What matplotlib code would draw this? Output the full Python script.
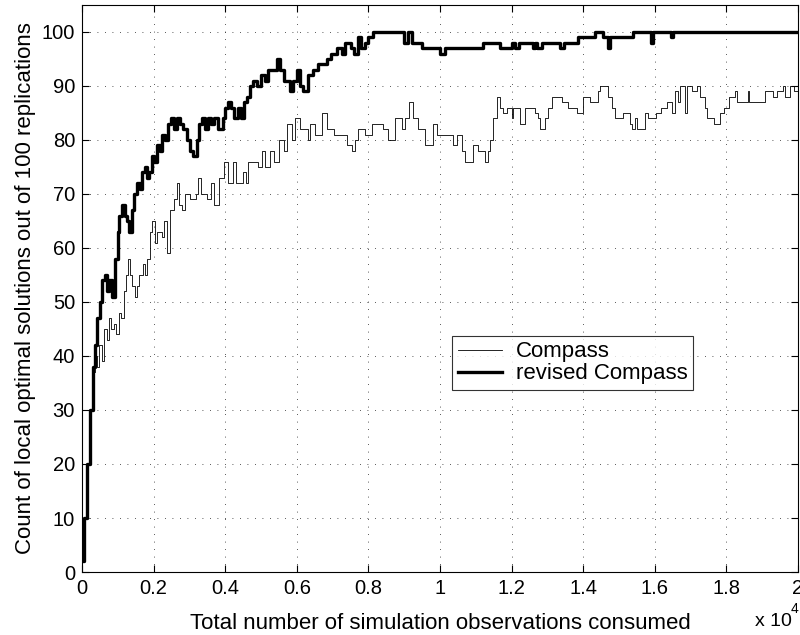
import matplotlib
matplotlib.use('Agg')
import matplotlib.pyplot as plt
from matplotlib.ticker import FuncFormatter

plt.rcParams['font.family'] = ['Liberation Sans', 'DejaVu Sans']

# revised Compass: (observations, count) breakpoints of the step curve
rev_x = [0, 60, 140, 220, 300, 360, 430, 500, 560, 640, 700, 760, 840, 920, 1000,
         1040, 1120, 1200, 1260, 1320, 1400, 1460, 1540, 1620, 1680, 1760, 1820,
         1880, 1960, 2020, 2100, 2180, 2240, 2320, 2400, 2480, 2560, 2640, 2740,
         2820, 2940, 3020, 3100, 3200, 3280, 3360, 3440, 3520, 3600, 3700, 3800,
         3940, 4000, 4080, 4160, 4240, 4360, 4440, 4520, 4610, 4700, 4780, 4880,
         5000, 5100, 5200, 5300, 5450, 5540, 5640, 5810, 5900, 6010, 6100, 6180,
         6300, 6460, 6600, 6700, 6850, 6950, 7130, 7250, 7350, 7500, 7600, 7700,
         7800, 7900, 8000, 8130, 9000, 9100, 9220, 9500, 10000, 10150, 11200,
         11680, 12020, 12100, 12200, 12600, 12650, 12700, 12860, 13360, 13450,
         13860, 14340, 14560, 14700, 14760, 15400, 15880, 15960, 16440, 16520, 20000]
rev_y = [2, 10, 20, 30, 38, 42, 47, 50, 54, 55, 52, 54, 51, 58, 63,
         66, 68, 66, 65, 63, 67, 70, 72, 71, 74, 75, 73,
         74, 77, 76, 79, 78, 81, 80, 83, 84, 82, 84, 83,
         82, 80, 78, 77, 80, 83, 84, 82, 84, 83, 84, 82,
         84, 86, 87, 86, 84, 86, 84, 87, 88, 90, 91, 90,
         92, 91, 93, 93, 95, 93, 91, 89, 91, 93, 90, 89,
         92, 93, 94, 94, 95, 96, 97, 96, 98, 97, 96, 99,
         97, 98, 99, 100, 98, 100, 98, 97, 96, 97, 98,
         97, 98, 97, 98, 97, 98, 97, 98, 97, 98,
         99, 100, 99, 97, 99, 100, 98, 100, 99, 100, 100]

# Compass
cmp_x = [0, 60, 140, 220, 300, 360, 420, 480, 560, 620, 700, 760, 820, 900, 960,
         1040, 1100, 1170, 1230, 1290, 1350, 1400, 1480, 1540, 1600, 1690, 1750,
         1820, 1900, 1960, 2040, 2100, 2230, 2300, 2380, 2460, 2570, 2640, 2720,
         2800, 2880, 3020, 3180, 3250, 3330, 3500, 3600, 3700, 3830, 3960, 4080,
         4220, 4310, 4500, 4590, 4640, 4920, 5030, 5110, 5250, 5360, 5500, 5640,
         5720, 5870, 5950, 6100, 6320, 6370, 6520, 6700, 6840, 7040,
         7130, 7400, 7550, 7630, 7710, 7910, 8100, 8400, 8550, 8750, 8940, 9030,
         9140, 9250, 9390, 9590, 9810, 9920, 10090, 10370, 10480, 10620, 10700,
         10930, 11070, 11260, 11350,
         11400, 11490, 11600, 11680, 11770, 11880, 12020, 12050, 12190, 12240,
         12380, 12660, 12750, 12800, 12940, 13030, 13140, 13420, 13580, 13840,
         14000, 14200, 14420, 14480, 14700, 14810, 14900, 15120, 15320, 15370,
         15450, 15510,
         15600, 15740, 15820, 16020, 16160, 16350, 16490, 16570, 16650, 16710,
         16830, 16910, 17050, 17190, 17270, 17390, 17470, 17550, 17640, 17830,
         17920, 18060, 18250, 18310, 18590, 18620, 19090, 19290, 19400, 19570,
         19650, 19790, 19900, 20000]
cmp_y = [2, 10, 20, 30, 37, 40, 38, 42, 39, 45, 43, 47, 45, 46, 44,
         48, 47, 52, 55, 58, 55, 53, 51, 53, 55, 57, 55,
         58, 63, 65, 61, 63, 62, 65, 59, 67, 69, 72, 68,
         67, 70, 69, 70, 73, 70, 69, 72, 68, 73, 76, 72,
         76, 72, 74, 72, 76, 75, 78, 75, 78, 76, 80, 78,
         83, 80, 84, 82, 80, 83, 81, 85, 82, 81,
         81, 79, 78, 80, 82, 81, 83, 82, 80, 84, 82, 84,
         87, 84, 82, 79, 83, 81, 81, 79, 81, 78, 76,
         79, 78, 76, 78,
         80, 84, 88, 86, 85, 86, 84, 86, 86, 83,
         86, 85, 84, 82, 84, 86, 88, 87, 86, 85,
         88, 87, 89, 90, 88, 86, 84, 85, 83, 82,
         84, 82,
         82, 85, 84, 85, 86, 87, 85, 89, 87, 90,
         85, 90, 89, 90, 88, 86, 84, 84, 83, 85,
         86, 88, 89, 87, 89, 87, 89, 88, 89, 90,
         88, 90, 89, 90]

fig = plt.figure(figsize=(8, 6.35), dpi=100)
ax = fig.add_axes([0.1025, 0.0992, 0.895, 0.893])

ax.step(cmp_x, cmp_y, where='post', color='black', linewidth=0.6, label='Compass')
ax.step(rev_x, rev_y, where='post', color='black', linewidth=2.4, label='revised Compass')

ax.set_xlim(0, 20000)
ax.set_ylim(0, 105)
ax.set_xticks(range(0, 20001, 2000))
ax.set_yticks(range(0, 101, 10))
ax.xaxis.set_major_formatter(FuncFormatter(lambda v, p: '%g' % (v / 1e4)))
ax.tick_params(direction='in', top=True, right=True, length=5, labelsize=14.5, pad=5)
ax.grid(True, color='#222222', linestyle=(0, (1, 8)), linewidth=0.6)
for s in ax.spines.values():
    s.set_linewidth(0.8)

ax.set_xlabel('Total number of simulation observations consumed', fontsize=16, labelpad=11)
ax.set_ylabel('Count of local optimal solutions out of 100 replications', fontsize=16, labelpad=4)

leg = ax.legend(loc='lower left', bbox_to_anchor=(0.517, 0.321), fontsize=16,
                frameon=True, fancybox=False, handlelength=2.0, borderpad=0.25,
                labelspacing=0.05, borderaxespad=0, handletextpad=0.6)
leg.get_frame().set_edgecolor('black')
leg.get_frame().set_linewidth(0.8)

fig.text(0.944, 0.008, 'x 10', fontsize=14, ha='left', va='bottom')
fig.text(0.988, 0.030, '4', fontsize=10, ha='left', va='bottom')

fig.savefig('out.png', dpi=100)
